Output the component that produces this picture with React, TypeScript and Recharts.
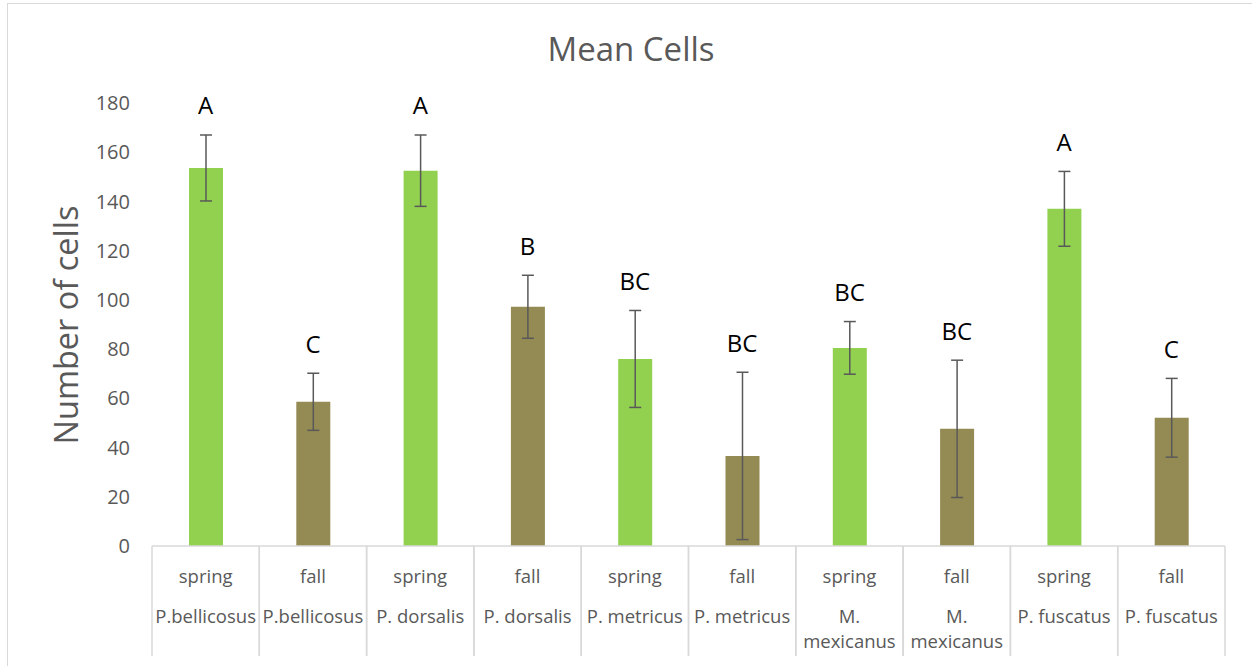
import React from "react";
import { ComposedChart, Bar, Line, XAxis, YAxis, ErrorBar, LabelList, Cell } from "recharts";

const seasons = ["spring", "fall", "spring", "fall", "spring", "fall", "spring", "fall", "spring", "fall"];
const speciesLines = [
  ["P.bellicosus"], ["P.bellicosus"],
  ["P. dorsalis"], ["P. dorsalis"],
  ["P. metricus"], ["P. metricus"],
  ["M.", "mexicanus"], ["M.", "mexicanus"],
  ["P. fuscatus"], ["P. fuscatus"],
];
const means = [153.6, 58.6, 152.5, 97.2, 76.0, 36.6, 80.5, 47.6, 137.0, 52.1];
const errors = [13.4, 11.6, 14.5, 12.8, 19.7, 34.0, 10.7, 27.9, 15.2, 16.0];
const letters = ["A", "C", "A", "B", "BC", "BC", "BC", "BC", "A", "C"];
const yTicks = [0, 20, 40, 60, 80, 100, 120, 140, 160, 180];

const SPRING = "#92D050";
const FALL = "#948A54";
const GRAY = "#595959";
const LINE = "#D9D9D9";
const FONT = "'Open Sans', 'Noto Sans', sans-serif";

const data = seasons.map((s, i) => ({
  name: `${s} ${speciesLines[i].join(" ")}`,
  mean: means[i],
  err: errors[i],
  top: means[i] + errors[i],
  letter: letters[i],
}));

const XTick = (props: any) => {
  const { x, y, index, payload } = props;
  const half = payload && payload.offset ? payload.offset : 53.65;
  const lines = speciesLines[index] || [];
  return (
    <g>
      <line x1={x - half} y1={y} x2={x - half} y2={y + 110} stroke={LINE} strokeWidth={1.5} />
      <line x1={x + half} y1={y} x2={x + half} y2={y + 110} stroke={LINE} strokeWidth={1.5} />
      <text x={x} y={y + 29} textAnchor="middle" dominantBaseline="central" fill={GRAY} fontSize={18.5} fontFamily={FONT}>
        {seasons[index]}
      </text>
      {lines.map((l: string, k: number) => (
        <text key={k} x={x} y={y + 69 + k * 25} textAnchor="middle" dominantBaseline="central" fill={GRAY} fontSize={18.5} fontFamily={FONT}>
          {l}
        </text>
      ))}
    </g>
  );
};

const LetterLabel = (props: any) => {
  const { x, y, value } = props;
  return (
    <text x={x} y={y - 30} textAnchor="middle" dominantBaseline="central" fill="#000" fontSize={24} fontFamily={FONT}>
      {value}
    </text>
  );
};

export default function App() {
  return (
    <div style={{ position: "fixed", left: 0, top: 0, width: 1252, height: 666, overflow: "hidden", background: "#fff" }}>
      <div style={{ position: "absolute", left: 7, top: 3, width: 1400, height: 800, border: `1.5px solid ${LINE}`, boxSizing: "border-box" }} />
      <div style={{ position: "absolute", left: 0, top: 0 }}>
        <ComposedChart width={1252} height={666} data={data} margin={{ top: 103, right: 27, bottom: 20, left: 92 }}>
          <XAxis
            dataKey="name"
            interval={0}
            height={100}
            axisLine={{ stroke: LINE, strokeWidth: 1.5 }}
            tickLine={false}
            tickSize={0}
            tickMargin={0}
            tick={<XTick />}
          />
          <YAxis
            width={60}
            domain={[0, 180]}
            ticks={yTicks}
            axisLine={false}
            tickLine={false}
            tickMargin={16}
            tick={{ fill: GRAY, fontSize: 20, fontFamily: FONT }}
          />
          <Bar dataKey="mean" barSize={34} isAnimationActive={false}>
            {data.map((d, i) => (
              <Cell key={i} fill={seasons[i] === "spring" ? SPRING : FALL} />
            ))}
            <ErrorBar dataKey="err" width={6} stroke={GRAY} strokeWidth={1.5} direction="y" />
          </Bar>
          <Line dataKey="top" stroke="none" dot={false} activeDot={false} isAnimationActive={false} legendType="none">
            <LabelList dataKey="letter" content={<LetterLabel />} />
          </Line>
        </ComposedChart>
      </div>
      <svg style={{ position: "absolute", left: 0, top: 0 }} width={1252} height={666} pointerEvents="none">
        <text x={631} y={48} textAnchor="middle" dominantBaseline="central" fill={GRAY} fontSize={33} fontFamily={FONT}>
          Mean Cells
        </text>
        <text
          x={65}
          y={325}
          textAnchor="middle"
          dominantBaseline="central"
          fill={GRAY}
          fontSize={32.5}
          fontFamily={FONT}
          transform="rotate(-90 65 325)"
        >
          Number of cells
        </text>
      </svg>
    </div>
  );
}
